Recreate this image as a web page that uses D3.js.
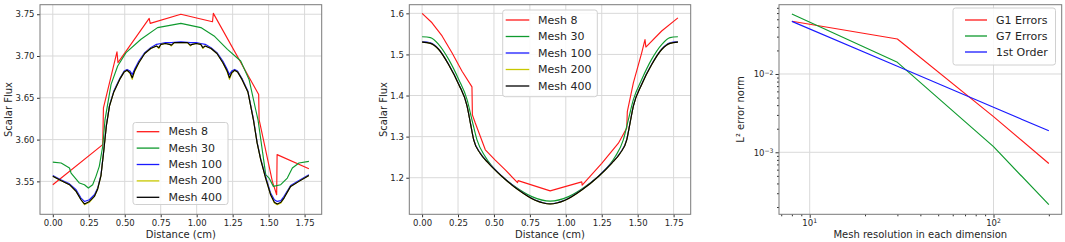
<!DOCTYPE html>
<html><head><meta charset="utf-8">
<script src="https://cdn.jsdelivr.net/npm/d3@7"></script>
<style>
body{margin:0;background:#fff;}
svg{display:block;font-family:"DejaVu Sans",sans-serif;}
</style></head><body>
<svg id="c" width="1065" height="242"></svg>
<script>
// ---------- Panel 1: scalar flux, case A ----------
const p1Mesh8 = [[0,3.546],[0.347,3.594],[0.352,3.638],[0.446,3.705],[0.453,3.692],[0.670,3.745],[0.677,3.739],[0.890,3.750],[1.110,3.741],[1.116,3.751],[1.431,3.654],[1.434,3.624],[1.526,3.550],[1.556,3.534],[1.559,3.582],[1.780,3.565]];
const p1Mesh30 = [[0,3.573],[0.058,3.572],[0.116,3.566],[0.127,3.560],[0.185,3.548],[0.220,3.546],[0.247,3.542],[0.277,3.546],[0.300,3.556],[0.323,3.568],[0.347,3.592],[0.363,3.624],[0.405,3.666],[0.451,3.688],[0.509,3.704],[0.613,3.720],[0.728,3.734],[0.890,3.739],[1.029,3.734],[1.121,3.724],[1.214,3.708],[1.306,3.694],[1.364,3.672],[1.410,3.636],[1.426,3.624],[1.480,3.558],[1.503,3.554],[1.533,3.544],[1.584,3.546],[1.607,3.550],[1.630,3.554],[1.665,3.566],[1.711,3.572],[1.780,3.574]];
const p1Mesh100 = [[0,3.557],[0.056,3.552],[0.116,3.547],[0.162,3.540],[0.196,3.530],[0.220,3.526],[0.254,3.528],[0.289,3.534],[0.312,3.542],[0.335,3.558],[0.354,3.587],[0.372,3.617],[0.394,3.641],[0.424,3.658],[0.465,3.673],[0.496,3.682],[0.516,3.684],[0.537,3.682],[0.552,3.678],[0.568,3.684],[0.598,3.694],[0.639,3.704],[0.680,3.710],[0.721,3.714],[0.752,3.715],[0.783,3.716],[0.824,3.716],[0.890,3.717],[0.956,3.716],[0.997,3.716],[1.028,3.715],[1.059,3.714],[1.100,3.710],[1.141,3.704],[1.182,3.694],[1.212,3.684],[1.228,3.678],[1.243,3.682],[1.264,3.684],[1.284,3.682],[1.315,3.673],[1.356,3.658],[1.394,3.625],[1.420,3.597],[1.445,3.577],[1.479,3.556],[1.514,3.536],[1.540,3.528],[1.560,3.526],[1.585,3.527],[1.607,3.532],[1.653,3.545],[1.711,3.551],[1.780,3.558]];
const p1Mesh200 = [[0,3.556],[0.056,3.551],[0.116,3.546],[0.162,3.538],[0.196,3.528],[0.220,3.522],[0.254,3.525],[0.289,3.532],[0.312,3.541],[0.335,3.557],[0.354,3.586],[0.372,3.616],[0.394,3.640],[0.424,3.657],[0.465,3.672],[0.496,3.681],[0.516,3.683],[0.537,3.679],[0.552,3.672],[0.568,3.681],[0.598,3.692],[0.639,3.703],[0.680,3.709],[0.721,3.712],[0.737,3.709],[0.752,3.714],[0.783,3.715],[0.810,3.714],[0.824,3.712],[0.844,3.716],[0.890,3.716],[0.936,3.716],[0.956,3.712],[0.970,3.714],[0.997,3.715],[1.028,3.714],[1.043,3.709],[1.059,3.712],[1.100,3.709],[1.141,3.703],[1.182,3.692],[1.212,3.681],[1.228,3.672],[1.243,3.679],[1.264,3.683],[1.284,3.681],[1.315,3.672],[1.356,3.657],[1.394,3.624],[1.420,3.596],[1.445,3.576],[1.479,3.554],[1.514,3.534],[1.540,3.524],[1.560,3.522],[1.585,3.524],[1.607,3.530],[1.653,3.544],[1.711,3.550],[1.780,3.557]];
const p1Mesh400 = [[0,3.556],[0.056,3.551],[0.116,3.546],[0.162,3.538],[0.196,3.528],[0.220,3.523],[0.254,3.526],[0.289,3.532],[0.312,3.541],[0.335,3.557],[0.354,3.586],[0.372,3.616],[0.394,3.640],[0.424,3.657],[0.465,3.672],[0.496,3.681],[0.516,3.683],[0.537,3.680],[0.552,3.674],[0.568,3.682],[0.598,3.692],[0.639,3.703],[0.680,3.709],[0.721,3.712],[0.737,3.710],[0.752,3.714],[0.783,3.715],[0.810,3.714],[0.824,3.713],[0.844,3.716],[0.890,3.716],[0.936,3.716],[0.956,3.713],[0.970,3.714],[0.997,3.715],[1.028,3.714],[1.043,3.710],[1.059,3.712],[1.100,3.709],[1.141,3.703],[1.182,3.692],[1.212,3.682],[1.228,3.674],[1.243,3.680],[1.264,3.683],[1.284,3.681],[1.315,3.672],[1.356,3.657],[1.394,3.624],[1.420,3.596],[1.445,3.576],[1.479,3.554],[1.514,3.534],[1.540,3.525],[1.560,3.523],[1.585,3.525],[1.607,3.530],[1.653,3.544],[1.711,3.550],[1.780,3.557]];
const p1XTicks = [0, 0.25, 0.5, 0.75, 1.0, 1.25, 1.5, 1.75];
const p1YTicks = [3.55, 3.60, 3.65, 3.70, 3.75];

// ---------- Panel 2: scalar flux, case B ----------
const p2Mesh8 = [[0,1.600],[0.069,1.577],[0.139,1.545],[0.208,1.504],[0.278,1.459],[0.347,1.421],[0.350,1.353],[0.370,1.333],[0.440,1.268],[0.509,1.243],[0.579,1.219],[0.664,1.188],[0.668,1.193],[0.891,1.168],[1.111,1.190],[1.114,1.182],[1.250,1.235],[1.366,1.284],[1.424,1.321],[1.428,1.361],[1.470,1.431],[1.528,1.504],[1.551,1.536],[1.557,1.518],[1.667,1.557],[1.780,1.589]];
const p2Mesh30 = [[0,1.543],[0.058,1.541],[0.116,1.524],[0.185,1.488],[0.255,1.439],[0.313,1.390],[0.347,1.341],[0.382,1.292],[0.440,1.251],[0.532,1.211],[0.648,1.178],[0.764,1.154],[0.891,1.143],[1.019,1.154],[1.134,1.178],[1.250,1.211],[1.343,1.251],[1.400,1.292],[1.435,1.341],[1.470,1.390],[1.528,1.439],[1.597,1.488],[1.667,1.524],[1.725,1.541],[1.780,1.543]];
const p2Mesh100 = [[0,1.531],[0.058,1.528],[0.116,1.513],[0.185,1.476],[0.255,1.428],[0.313,1.375],[0.336,1.334],[0.359,1.293],[0.405,1.260],[0.463,1.236],[0.556,1.204],[0.671,1.171],[0.787,1.146],[0.891,1.137],[0.995,1.146],[1.111,1.171],[1.227,1.204],[1.319,1.236],[1.377,1.260],[1.424,1.293],[1.447,1.334],[1.470,1.375],[1.528,1.428],[1.597,1.476],[1.667,1.513],[1.725,1.528],[1.780,1.531]];
const p2Mesh200 = [[0,1.530],[0.058,1.527],[0.116,1.512],[0.185,1.475],[0.255,1.427],[0.313,1.374],[0.336,1.333],[0.359,1.292],[0.405,1.259],[0.463,1.235],[0.556,1.203],[0.671,1.170],[0.787,1.145],[0.891,1.136],[0.995,1.145],[1.111,1.170],[1.227,1.203],[1.319,1.235],[1.377,1.259],[1.424,1.292],[1.447,1.333],[1.470,1.374],[1.528,1.427],[1.597,1.475],[1.667,1.512],[1.725,1.527],[1.780,1.530]];
const p2Mesh400 = [[0,1.530],[0.058,1.527],[0.116,1.512],[0.185,1.475],[0.255,1.427],[0.313,1.374],[0.336,1.333],[0.359,1.292],[0.405,1.259],[0.463,1.235],[0.556,1.203],[0.671,1.170],[0.787,1.145],[0.891,1.136],[0.995,1.145],[1.111,1.170],[1.227,1.203],[1.319,1.235],[1.377,1.259],[1.424,1.292],[1.447,1.333],[1.470,1.374],[1.528,1.427],[1.597,1.475],[1.667,1.512],[1.725,1.527],[1.780,1.530]];
const p2XTicks = [0, 0.25, 0.5, 0.75, 1.0, 1.25, 1.5, 1.75];
const p2YTicks = [1.2, 1.3, 1.4, 1.5, 1.6];

// ---------- Panel 3: convergence ----------
const meshRes = [8, 30, 100, 200];
const g1Errors = [0.0471, 0.0280, 0.00285, 0.00072];
const g7Errors = [0.0583, 0.0141, 0.00118, 0.000214];
const firstOrder = [0.047, 0.01253, 0.00376, 0.00188];
const p3XMajor = [10, 100];
const p3YMajor = [0.01, 0.001];

const meshLabels = ["Mesh 8", "Mesh 30", "Mesh 100", "Mesh 200", "Mesh 400"];
const convLabels = ["G1 Errors", "G7 Errors", "1st Order"];

// ---------- styles ----------
const RED = "#ff1a1a", GREEN = "#0f9a2e", BLUE = "#1a1aff", YEL = "#c8c800", BLK = "#000000";
const meshColors = [RED, GREEN, BLUE, YEL, BLK];
const TXT = "#262626", GRID = "#d9d9d9", FRAME = "#7a7a7a";
const TICKF = 8.5, LABF = 10, LEGF = 11;

const svg = d3.select("#c");

function drawPanel(cfg) {
  const g = svg.append("g");
  const {x, y, box} = cfg;
  g.append("g").selectAll("line").data(cfg.xGrid).join("line")
    .attr("x1", d => x(d)).attr("x2", d => x(d)).attr("y1", box.t).attr("y2", box.b)
    .attr("stroke", GRID).attr("stroke-width", 1);
  g.append("g").selectAll("line").data(cfg.yGrid).join("line")
    .attr("y1", d => y(d)).attr("y2", d => y(d)).attr("x1", box.l).attr("x2", box.r)
    .attr("stroke", GRID).attr("stroke-width", 1);
  const cid = "clip" + Math.round(box.l);
  svg.append("clipPath").attr("id", cid).append("rect")
    .attr("x", box.l).attr("y", box.t).attr("width", box.r - box.l).attr("height", box.b - box.t);
  const lg = g.append("g").attr("clip-path", `url(#${cid})`);
  cfg.series.forEach(s => {
    const line = d3.line().x(d => x(d[0])).y(d => y(d[1])).curve(s.curve || d3.curveLinear);
    lg.append("path").datum(s.data).attr("d", line).attr("fill", "none")
      .attr("stroke", s.color).attr("stroke-width", s.width || 1.15).attr("stroke-linejoin", "round");
  });
  g.append("g").attr("transform", `translate(0,${box.b})`).call(cfg.xAxis);
  g.append("g").attr("transform", `translate(${box.l},0)`).call(cfg.yAxis);
  if (cfg.xMinor) g.append("g").attr("transform", `translate(0,${box.b})`).call(cfg.xMinor);
  if (cfg.yMinor) g.append("g").attr("transform", `translate(${box.l},0)`).call(cfg.yMinor);
  g.selectAll(".domain").remove();
  g.selectAll(".tick line").attr("stroke", "#333");
  g.selectAll(".tick text").attr("fill", TXT).attr("font-size", TICKF).attr("font-family", "DejaVu Sans");
  g.append("rect").attr("x", box.l).attr("y", box.t).attr("width", box.r - box.l).attr("height", box.b - box.t)
    .attr("fill", "none").attr("stroke", FRAME).attr("stroke-width", 1);
  g.append("text").attr("x", (box.l + box.r) / 2).attr("y", 237.5).attr("text-anchor", "middle")
    .attr("font-size", LABF).attr("fill", TXT).text(cfg.xLabel);
  g.append("text").attr("transform", `translate(${cfg.yLabelX},${(box.t + box.b) / 2}) rotate(-90)`)
    .attr("text-anchor", "middle").attr("dominant-baseline", "central")
    .attr("font-size", LABF).attr("fill", TXT).text(cfg.yLabel);
  const L = cfg.legend;
  const lgd = g.append("g");
  lgd.append("rect").attr("x", L.x0).attr("y", L.y0).attr("width", L.x1 - L.x0).attr("height", L.y1 - L.y0)
    .attr("rx", 2.5).attr("fill", "#fff").attr("fill-opacity", 0.85).attr("stroke", "#d0d0d0").attr("stroke-width", 1);
  L.items.forEach((it, i) => {
    const yy = L.rowY + i * L.step;
    lgd.append("line").attr("x1", L.lx1).attr("x2", L.lx2).attr("y1", yy).attr("y2", yy)
      .attr("stroke", it.color).attr("stroke-width", 1.3);
    lgd.append("text").attr("x", L.tx).attr("y", yy).attr("dominant-baseline", "central")
      .attr("font-size", LEGF).attr("fill", TXT).text(it.label);
  });
}

// Panel 1
{
  const box = {l: 40, r: 321.7, t: 4.7, b: 214.3};
  const x = d3.scaleLinear().domain([-0.089, 1.869]).range([box.l, box.r]);
  const y = d3.scaleLinear().domain([3.5106, 3.7614]).range([box.b, box.t]);
  const data = [p1Mesh8, p1Mesh30, p1Mesh100, p1Mesh200, p1Mesh400];
  drawPanel({
    x, y, box, xGrid: p1XTicks, yGrid: p1YTicks,
    series: data.map((d, i) => ({data: d, color: meshColors[i]})),
    xAxis: d3.axisBottom(x).tickValues(p1XTicks).tickFormat(d3.format(".2f")).tickSize(3).tickPadding(2.5),
    yAxis: d3.axisLeft(y).tickValues(p1YTicks).tickFormat(d3.format(".2f")).tickSize(3).tickPadding(2.5),
    xLabel: "Distance (cm)", yLabel: "Scalar Flux", yLabelX: 8,
    legend: {x0: 133, x1: 228, y0: 122.5, y1: 204.5, rowY: 131.7, step: 16.4, lx1: 136.7, lx2: 159.3, tx: 168.5,
      items: meshLabels.map((l, i) => ({label: l, color: meshColors[i]}))}
  });
}
// Panel 2
{
  const box = {l: 409.3, r: 690.7, t: 4.7, b: 214.3};
  const x = d3.scaleLinear().domain([-0.089, 1.869]).range([box.l, box.r]);
  const y = d3.scaleLinear().domain([1.111, 1.621]).range([box.b, box.t]);
  const data = [p2Mesh8, p2Mesh30, p2Mesh100, p2Mesh200, p2Mesh400];
  drawPanel({
    x, y, box, xGrid: p2XTicks, yGrid: p2YTicks,
    series: data.map((d, i) => ({data: d, color: meshColors[i], curve: i === 0 ? d3.curveLinear : d3.curveMonotoneX})),
    xAxis: d3.axisBottom(x).tickValues(p2XTicks).tickFormat(d3.format(".2f")).tickSize(3).tickPadding(2.5),
    yAxis: d3.axisLeft(y).tickValues(p2YTicks).tickFormat(d3.format(".1f")).tickSize(3).tickPadding(2.5),
    xLabel: "Distance (cm)", yLabel: "Scalar Flux", yLabelX: 383.5,
    legend: {x0: 502.7, x1: 597.3, y0: 10, y1: 96.7, rowY: 20, step: 16.5, lx1: 505.7, lx2: 529.3, tx: 538,
      items: meshLabels.map((l, i) => ({label: l, color: meshColors[i]}))}
  });
}
// Panel 3
{
  const box = {l: 779, r: 1061.7, t: 4.7, b: 214.3};
  const x = d3.scaleLog().domain([Math.pow(10, 0.833), Math.pow(10, 2.371)]).range([box.l, box.r]);
  const y = d3.scaleLog().domain([Math.pow(10, -3.792), Math.pow(10, -1.115)]).range([box.b, box.t]);
  const isMajor = v => Math.abs(Math.log10(v) - Math.round(Math.log10(v))) < 1e-9;
  const xMinorVals = x.ticks().filter(v => !isMajor(v));
  const yMinorVals = y.ticks().filter(v => !isMajor(v));
  const series = [
    {data: meshRes.map((m, i) => [m, g1Errors[i]]), color: RED},
    {data: meshRes.map((m, i) => [m, g7Errors[i]]), color: GREEN},
    {data: meshRes.map((m, i) => [m, firstOrder[i]]), color: BLUE}
  ];
  drawPanel({
    x, y, box, xGrid: p3XMajor, yGrid: p3YMajor, series,
    xAxis: d3.axisBottom(x).tickValues(p3XMajor).tickFormat("").tickSize(3.5).tickPadding(2.5),
    yAxis: d3.axisLeft(y).tickValues(p3YMajor).tickFormat("").tickSize(3.5).tickPadding(2.5),
    xMinor: d3.axisBottom(x).tickValues(xMinorVals).tickFormat("").tickSize(2),
    yMinor: d3.axisLeft(y).tickValues(yMinorVals).tickFormat("").tickSize(2),
    xLabel: "Mesh resolution in each dimension", yLabel: "L\u00B2 error norm", yLabelX: 740,
    legend: {x0: 953, x1: 1055.5, y0: 8, y1: 65, rowY: 20, step: 16, lx1: 965, lx2: 987, tx: 996,
      items: convLabels.map((l, i) => ({label: l, color: [RED, GREEN, BLUE][i]}))}
  });
  const lab = svg.append("g").attr("fill", TXT).attr("font-size", TICKF);
  p3XMajor.forEach(v => {
    const t = lab.append("text").attr("x", x(v)).attr("y", box.b + 11.5).attr("text-anchor", "middle");
    t.append("tspan").text("10");
    t.append("tspan").attr("dy", "-0.4em").attr("font-size", TICKF * 0.72).text(String(Math.round(Math.log10(v))));
  });
  p3YMajor.forEach(v => {
    const t = lab.append("text").attr("x", box.l - 5.5).attr("y", y(v) + 3.5).attr("text-anchor", "end");
    t.append("tspan").text("10");
    t.append("tspan").attr("dy", "-0.45em").attr("font-size", TICKF * 0.72).text("\u2212" + String(-Math.round(Math.log10(v))));
  });
}
</script>
</body></html>
